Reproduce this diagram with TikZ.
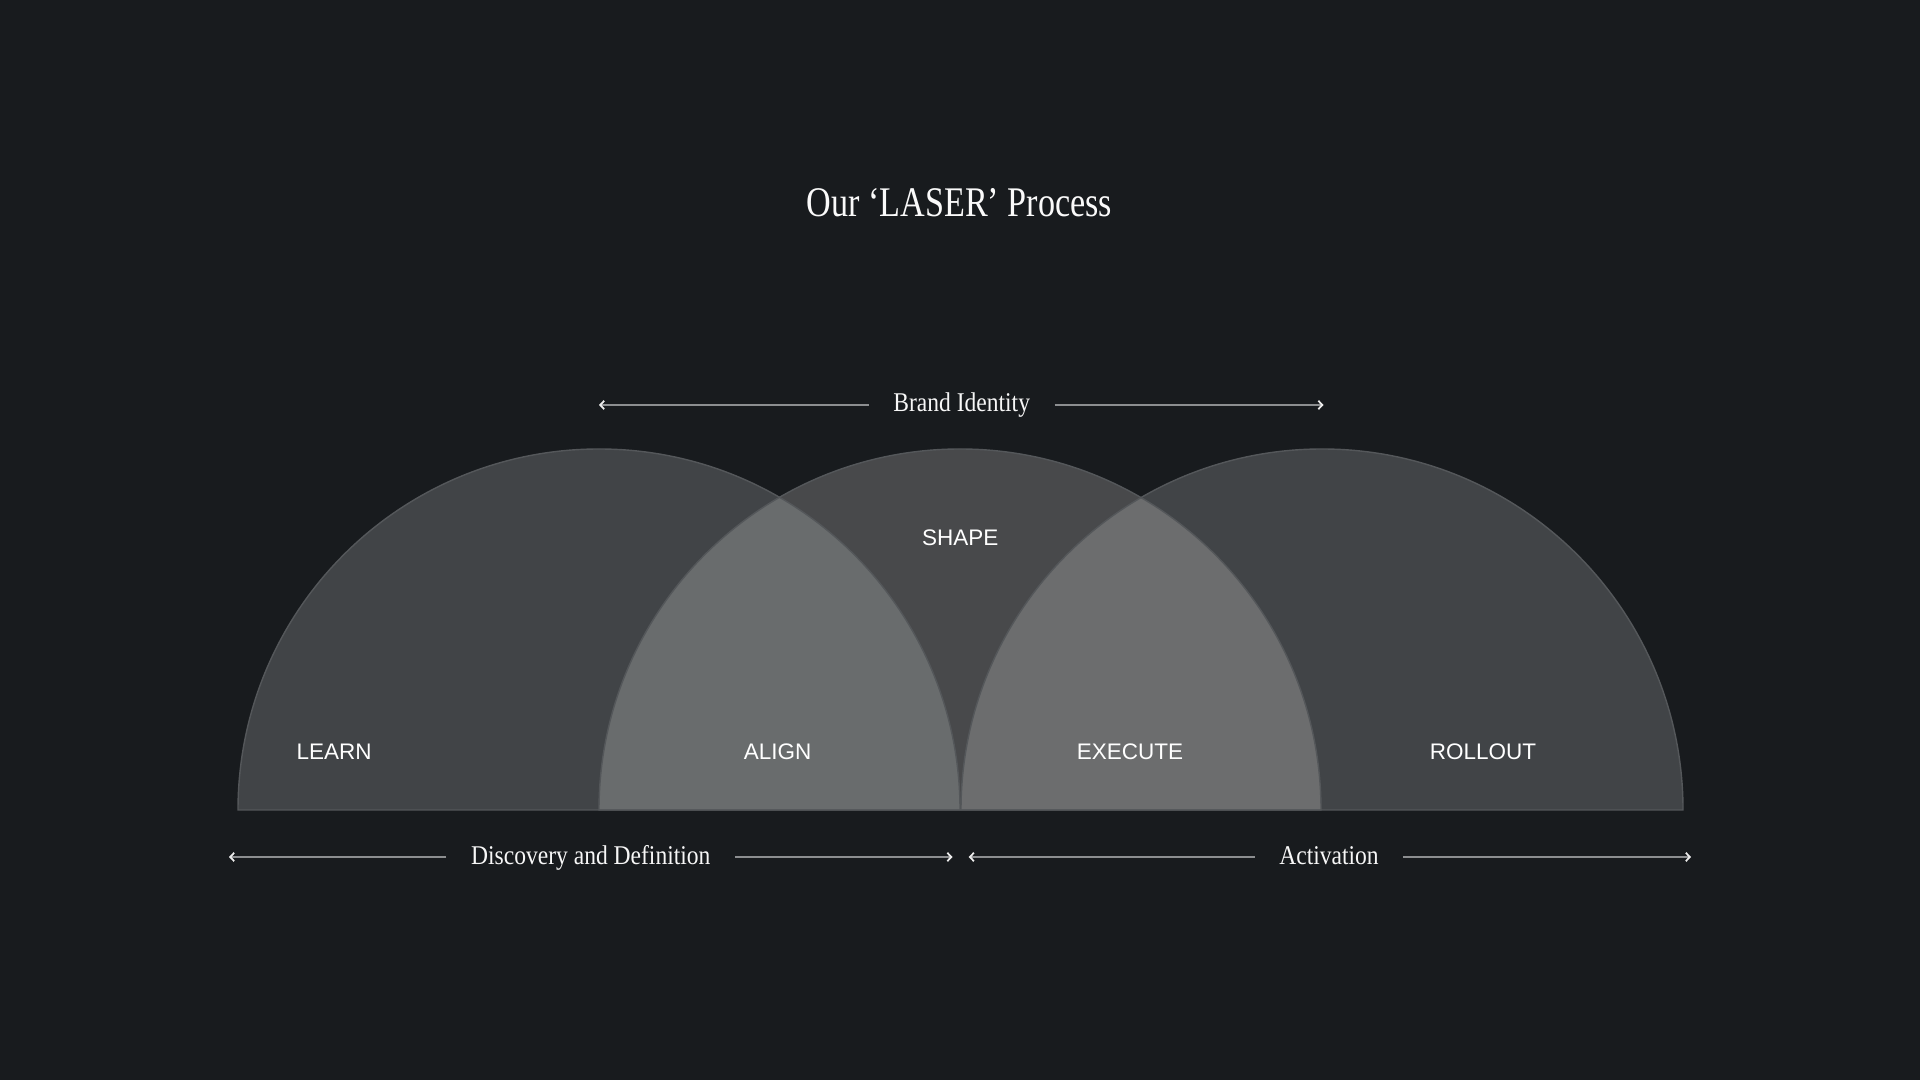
\documentclass[tikz,border=0pt]{standalone}
\usepackage{fontspec}
\usepackage{tikz}
\usetikzlibrary{arrows.meta,positioning,calc}
\newfontfamily\titlefont[FakeStretch=0.81]{Liberation Serif}
\newfontfamily\spanfont[FakeStretch=0.87]{Liberation Serif}
\newfontfamily\stagefont{Liberation Sans}
\definecolor{bg}{RGB}{24,27,30}
\definecolor{oc}{RGB}{65,68,71}
\definecolor{mc}{RGB}{72,73,75}
\definecolor{lc}{RGB}{105,108,109}
\definecolor{rc}{RGB}{108,109,110}
\definecolor{ec}{RGB}{84,87,90}
\definecolor{wc}{RGB}{140,142,144}
\def\rad{3.61}
\tikzset{half/.style={insert path={++(-\rad,0) arc[start angle=180,end angle=0,radius=\rad] -- cycle}},
 outer/.style={fill=oc},mid/.style={fill=mc},lens/.style={fill=lc},
 rim/.style={draw=ec,line width=.4pt},
 stage/.style={text=white,font=\stagefont\fontsize{6.4}{7}\selectfont,anchor=base},
 spanlbl/.style={text=white!94!gray,font=\spanfont\fontsize{7.7}{9}\selectfont,anchor=base,inner xsep=.24cm},
 span/.style={draw=wc,line width=.5pt,-{Straight Barb[length=.4mm,width=.85mm,color=white!85!gray]}},
 ttl/.style={text=white!96!gray,font=\titlefont\fontsize{12}{14}\selectfont,anchor=base}}

\begin{document}
\begin{tikzpicture}
\fill[bg] (0,0) rectangle (19.2,10.8);
\useasboundingbox (0,0) rectangle (19.2,10.8);
\coordinate (learnC) at (5.99,2.7);
\coordinate (shapeC) at (9.6,2.7);
\coordinate (rollC) at (13.22,2.7);
% half discs
\fill[outer] (learnC) [half];
\fill[outer] (rollC) [half];
\fill[mid] (shapeC) [half];
\begin{scope}
\clip (learnC) [half];
\fill[lens] (shapeC) [half];
\end{scope}
\begin{scope}
\clip (rollC) [half];
\fill[lens,fill=rc] (shapeC) [half];
\end{scope}
\foreach \c in {learnC,shapeC,rollC} \draw[rim] (\c) [half];
% texts
\node[ttl] (title) at (9.595,8.633) {Our ‘LASER’ Process};
\node[stage] (learn) at (3.34,3.207) {LEARN};
\node[stage] (align) at (7.776,3.207) {ALIGN};
\node[stage] (execute) at (11.30,3.207) {EXECUTE};
\node[stage] (rollout) at (14.83,3.207) {ROLLOUT};
\node[stage] (shape) at (9.603,5.34) {SHAPE};
% spans
\node[spanlbl] (brand) at (9.617,6.683) {Brand Identity};
\node[spanlbl] (disc) at (5.908,2.157) {Discovery and Definition};
\node[spanlbl] (act) at (13.29,2.157) {Activation};
\coordinate (brandL) at (5.99,6.75);
\coordinate (brandR) at (13.235,6.75);
\coordinate (discL) at (2.29,2.23);
\coordinate (discR) at (9.525,2.23);
\coordinate (actL) at (9.687,2.23);
\coordinate (actR) at (16.91,2.23);
\draw[span] (brand.west |- brandL) -- (brandL);
\draw[span] (brand.east |- brandR) -- (brandR);
\draw[span] (disc.west |- discL) -- (discL);
\draw[span] (disc.east |- discR) -- (discR);
\draw[span] (act.west |- actL) -- (actL);
\draw[span] (act.east |- actR) -- (actR);
\end{tikzpicture}
\end{document}
